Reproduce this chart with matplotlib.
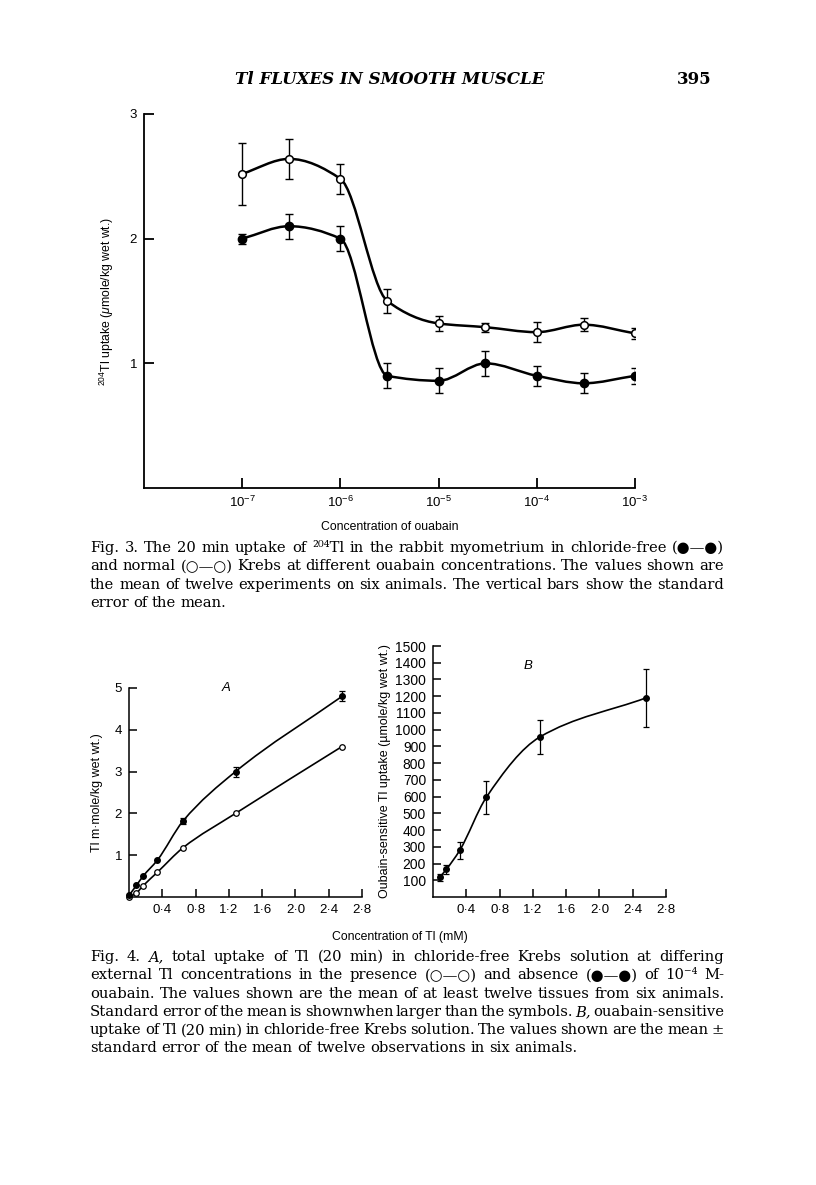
import numpy as np
import matplotlib
matplotlib.use("Agg")
import matplotlib.pyplot as plt
from matplotlib.path import Path
from matplotlib.patches import PathPatch
from matplotlib.ticker import NullLocator

plt.rcParams["font.family"] = ["Liberation Sans", "DejaVu Sans"]
plt.rcParams["mathtext.fontset"] = "custom"
plt.rcParams["mathtext.rm"] = "Liberation Sans"
plt.rcParams["mathtext.it"] = "Liberation Sans:italic"

# ---- Fig. 3 data: 20 min 204Tl uptake vs ouabain concentration ----
ouabain_conc = [1e-7, 3e-7, 1e-6, 3e-6, 1e-5, 3e-5, 1e-4, 3e-4, 1e-3]
normal_uptake = [2.52, 2.64, 2.48, 1.50, 1.32, 1.29, 1.25, 1.31, 1.24]
normal_err = [0.25, 0.16, 0.12, 0.10, 0.06, 0.035, 0.08, 0.05, 0.045]
clfree_uptake = [2.00, 2.10, 2.00, 0.90, 0.86, 1.00, 0.90, 0.84, 0.90]
clfree_err = [0.04, 0.10, 0.10, 0.10, 0.10, 0.10, 0.08, 0.08, 0.065]
fig3_xticks = [1e-7, 1e-6, 1e-5, 1e-4, 1e-3]
fig3_xlabels = [r"$10^{-7}$", r"$10^{-6}$", r"$10^{-5}$", r"$10^{-4}$", r"$10^{-3}$"]
fig3_yticks = [1, 2, 3]

# ---- Fig. 4A: total Tl uptake, with / without ouabain ----
tl_conc_a = [0.005, 0.09, 0.17, 0.34, 0.65, 1.28, 2.56]
absent_uptake = [0.05, 0.28, 0.50, 0.88, 1.82, 3.00, 4.80]
absent_err = [0, 0, 0, 0, 0.07, 0.12, 0.12]
present_uptake = [0.0, 0.10, 0.27, 0.59, 1.18, 2.00, 3.60]

# ---- Fig. 4B: ouabain-sensitive Tl uptake ----
tl_conc_b = [0.08, 0.16, 0.32, 0.64, 1.28, 2.56]
sensitive_uptake = [118, 165, 278, 595, 955, 1190]
sensitive_err = [22, 27, 50, 100, 100, 175]

conc_ticks = [0.4, 0.8, 1.2, 1.6, 2.0, 2.4, 2.8]
conc_labels = ["0·4", "0·8", "1·2", "1·6", "2·0", "2·4", "2·8"]
a_yticks = [1, 2, 3, 4, 5]
b_yticks = list(range(100, 1600, 100))

fig3_caption = [
    "Fig. 3. The 20 min uptake of ²⁰⁴Tl in the rabbit myometrium in chloride-free (●—●)",
    "and normal (○—○) Krebs at different ouabain concentrations. The values shown are",
    "the mean of twelve experiments on six animals. The vertical bars show the standard",
    "error of the mean.",
]
fig4_caption = [
    "Fig. 4. A, total uptake of Tl (20 min) in chloride-free Krebs solution at differing",
    "external Tl concentrations in the presence (○—○) and absence (●—●) of 10⁻⁴ M-",
    "ouabain. The values shown are the mean of at least twelve tissues from six animals.",
    "Standard error of the mean is shownwhen larger than the symbols. B, ouabain-sensitive",
    "uptake of Tl (20 min) in chloride-free Krebs solution. The values shown are the mean ±",
    "standard error of the mean of twelve observations in six animals.",
]

W, H = 816, 1185
fig = plt.figure(figsize=(W / 100, H / 100), dpi=100)


def box(l, t, r, b):
    return [l / W, 1 - b / H, (r - l) / W, (b - t) / H]


def pchip_slopes(x, y):
    h = np.diff(x)
    d = np.diff(y) / h
    m = np.zeros_like(y)
    m[0], m[-1] = d[0], d[-1]
    for k in range(1, len(x) - 1):
        if d[k - 1] * d[k] > 0:
            w1 = 2 * h[k] + h[k - 1]
            w2 = h[k] + 2 * h[k - 1]
            m[k] = (w1 + w2) / (w1 / d[k - 1] + w2 / d[k])
    return m


def smooth_curve(ax, xs, ys, logx=False, lw=1.5):
    """hand-drawn style curve through the points, as cubic bezier segments"""
    u = np.log10(xs) if logx else np.asarray(xs, float)
    v = np.asarray(ys, float)
    m = pchip_slopes(u, v)
    verts = [(u[0], v[0])]
    codes = [Path.MOVETO]
    for i in range(len(u) - 1):
        h = u[i + 1] - u[i]
        verts += [(u[i] + h / 3, v[i] + m[i] * h / 3),
                  (u[i + 1] - h / 3, v[i + 1] - m[i + 1] * h / 3),
                  (u[i + 1], v[i + 1])]
        codes += [Path.CURVE4] * 3
    verts = np.array(verts)
    if logx:
        verts[:, 0] = 10 ** verts[:, 0]
    ax.add_patch(PathPatch(Path(verts, codes), fill=False, lw=lw, color="black", zorder=2))


def style_axes(ax, lw, ticklen, size=9.5):
    for s in ["top", "right"]:
        ax.spines[s].set_visible(False)
    for s in ["left", "bottom"]:
        ax.spines[s].set_linewidth(lw)
    ax.tick_params(direction="in", length=ticklen, width=lw, labelsize=size, pad=5)


# ---------------- Fig. 3 ----------------
ax1 = fig.add_axes(box(144, 114, 635, 488))
ax1.set_xscale("log")
ax1.set_xlim(1e-8, 1e-3)
ax1.set_ylim(0, 3)
style_axes(ax1, 1.3, 7)
ax1.set_xticks(fig3_xticks)
ax1.set_xticklabels(fig3_xlabels)
ax1.xaxis.set_minor_locator(NullLocator())
ax1.set_yticks(fig3_yticks)
ax1.set_ylabel(r"$^{204}$Tl uptake ($\mu$mole/kg wet wt.)", fontsize=8.8, labelpad=10)

smooth_curve(ax1, ouabain_conc, normal_uptake, logx=True, lw=1.8)
smooth_curve(ax1, ouabain_conc, clfree_uptake, logx=True, lw=1.8)
ax1.errorbar(ouabain_conc, normal_uptake, yerr=normal_err, fmt="none", ecolor="black",
             elinewidth=1.0, capsize=3, capthick=1.0, zorder=3)
ax1.errorbar(ouabain_conc, clfree_uptake, yerr=clfree_err, fmt="none", ecolor="black",
             elinewidth=1.0, capsize=3, capthick=1.0, zorder=3)
ax1.plot(ouabain_conc, normal_uptake, "o", ms=5.5, mfc="white", mec="black", mew=1.1, zorder=4)
ax1.plot(ouabain_conc, clfree_uptake, "o", ms=6, mfc="black", mec="black", zorder=4)

fig.text(390 / W, 1 - 527 / H, "Concentration of ouabain", ha="center", va="center", fontsize=8.8)

# ---------------- Fig. 4A ----------------
ax2 = fig.add_axes(box(129, 688, 362, 897))
ax2.set_xlim(0, 2.8)
ax2.set_ylim(0, 5)
style_axes(ax2, 1.1, 6)
ax2.set_xticks(conc_ticks)
ax2.set_xticklabels(conc_labels)
ax2.set_yticks(a_yticks)
ax2.set_ylabel("Tl m·mole/kg wet wt.)", fontsize=9, labelpad=8)
ax2.text(0.415, 1.0, "A", transform=ax2.transAxes, style="italic", fontsize=9.5, ha="center", va="center")

smooth_curve(ax2, tl_conc_a, absent_uptake, lw=1.2)
smooth_curve(ax2, tl_conc_a, present_uptake, lw=1.2)
has_err = np.array(absent_err) > 0
ax2.errorbar(np.array(tl_conc_a)[has_err], np.array(absent_uptake)[has_err],
             yerr=np.array(absent_err)[has_err], fmt="none", ecolor="black",
             elinewidth=0.9, capsize=2, capthick=0.9, zorder=3)
ax2.plot(tl_conc_a, present_uptake, "o", ms=4, mfc="white", mec="black", mew=0.9, zorder=4, clip_on=False)
ax2.plot(tl_conc_a, absent_uptake, "o", ms=4, mfc="black", mec="black", zorder=4, clip_on=False)

# ---------------- Fig. 4B ----------------
ax3 = fig.add_axes(box(433, 646, 666, 897))
ax3.set_xlim(0, 2.8)
ax3.set_ylim(0, 1500)
style_axes(ax3, 1.1, 6, size=10)
ax3.set_xticks(conc_ticks)
ax3.set_xticklabels(conc_labels, fontsize=9.5)
ax3.set_yticks(b_yticks)
ax3.set_ylabel("Oubain-sensitive Tl uptake (µmole/kg wet wt.)", fontsize=9, labelpad=3)
ax3.text(0.41, 0.92, "B", transform=ax3.transAxes, style="italic", fontsize=9.5, ha="center", va="center")

smooth_curve(ax3, tl_conc_b, sensitive_uptake, lw=1.2)
ax3.errorbar(tl_conc_b, sensitive_uptake, yerr=sensitive_err, fmt="none", ecolor="black",
             elinewidth=0.9, capsize=2.5, capthick=0.9, zorder=3)
ax3.plot(tl_conc_b, sensitive_uptake, "o", ms=4, mfc="black", mec="black", zorder=4)

fig.text(400 / W, 1 - 937 / H, "Concentration of Tl (mM)", ha="center", va="center", fontsize=8.8)

# ---------------- page text ----------------
serif = ["DejaVu Serif"]
fig.text(235 / W, 1 - 80 / H, "Tl FLUXES IN SMOOTH MUSCLE", family=serif, style="italic",
         weight="bold", fontsize=12, va="center", ha="left")
fig.text(712 / W, 1 - 80 / H, "395", family=serif, weight="bold", fontsize=12, va="center", ha="right")

renderer = fig.canvas.get_renderer()


def caption(lines, y0, dy, left=90, right=724, size=10.6, italic=()):
    for n, line in enumerate(lines):
        y = 1 - (y0 + n * dy) / H
        words = line.split(" ")
        texts = [fig.text(0, y, w, family=serif, fontsize=size, va="center",
                          style="italic" if (w in italic and n in (0, 3)) else "normal")
                 for w in words]
        widths = [t.get_window_extent(renderer).width for t in texts]
        if n < len(lines) - 1:
            gap = (right - left - sum(widths)) / (len(words) - 1)
        else:
            gap = 0.3 * size * 100 / 72
        x = left
        for t, w in zip(texts, widths):
            t.set_x(x / W)
            x += w + gap


caption(fig3_caption, 548, 18.4)
caption(fig4_caption, 957, 18.3, italic=("A,", "B,"))

fig.savefig("out.png", dpi=100)
